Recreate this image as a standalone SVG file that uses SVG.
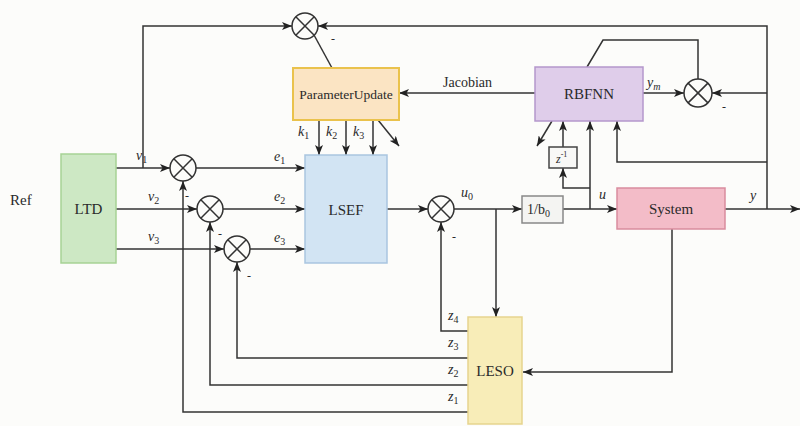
<svg xmlns="http://www.w3.org/2000/svg" width="800" height="426" viewBox="0 0 800 426">
<defs>
<marker id="ah" viewBox="0 0 10 8" refX="10" refY="4" markerWidth="10" markerHeight="8" markerUnits="userSpaceOnUse" orient="auto">
<path d="M0,0 L10,4 L0,8 L2.5,4 Z" fill="#222"/>
</marker>
<style>
.ln{fill:none;stroke:#333;stroke-width:1.5}
.ar{marker-end:url(#ah)}
.sum{fill:#fcfcfa;stroke:#333;stroke-width:1.5}
.t{font-family:"Liberation Serif","Times New Roman",serif;fill:#2a2a2a}
.box{font-size:15px;text-anchor:middle}
.lb{font-size:14px;font-style:italic}
.mn{font-size:12px}
</style>
</defs>
<rect width="800" height="426" fill="#fcfcfa"/>

<g id="connectors">
<path class="ln ar" d="M116,168 H170"/>
<path class="ln ar" d="M143,168 V26 H292"/>
<path class="ln ar" d="M116,209 H197"/>
<path class="ln ar" d="M116,249 H224"/>
<path class="ln ar" d="M196,168 H305"/>
<path class="ln ar" d="M223,209 H305"/>
<path class="ln ar" d="M250,249 H305"/>
<path class="ln ar" d="M387,209 H428"/>
<path class="ln ar" d="M454,209 H522"/>
<path class="ln ar" d="M496,209 V317"/>
<path class="ln ar" d="M563,209 H617"/>
<path class="ln ar" d="M725,209 H800"/>
<path class="ln ar" d="M767,209 V26 H318"/>
<path class="ln" d="M314,35 L332,68"/>
<path class="ln ar" d="M319,120 V155"/>
<path class="ln ar" d="M346,120 V155"/>
<path class="ln ar" d="M373,120 V155"/>
<path class="ln ar" d="M378,120 L399,146"/>
<path class="ln ar" d="M535,93 H399"/>
<path class="ln ar" d="M643,93 H684"/>
<path class="ln ar" d="M767,93 H712"/>
<path class="ln" d="M698,79 V40 H603 L587,67"/>
<path class="ln ar" d="M590,209 V121"/>
<path class="ln ar" d="M590,188 H563 V168"/>
<path class="ln ar" d="M563,147 V121"/>
<path class="ln ar" d="M552,121 L537,146"/>
<path class="ln ar" d="M767,162 H617 V121"/>
<path class="ln ar" d="M672,229 V372 H523"/>
<path class="ln ar" d="M468,331 H441 V222"/>
<path class="ln ar" d="M468,358 H237 V262"/>
<path class="ln ar" d="M468,385 H210 V222"/>
<path class="ln ar" d="M468,412 H183 V181"/>
</g>

<g id="sum_top"><circle class="sum" cx="305" cy="26" r="13"/><path class="ln" d="M295.8,16.8 L314.2,35.2 M314.2,16.8 L295.8,35.2"/></g>
<g id="sum1"><circle class="sum" cx="183" cy="168" r="13"/><path class="ln" d="M173.8,158.8 L192.2,177.2 M192.2,158.8 L173.8,177.2"/></g>
<g id="sum2"><circle class="sum" cx="210" cy="209" r="13"/><path class="ln" d="M200.8,199.8 L219.2,218.2 M219.2,199.8 L200.8,218.2"/></g>
<g id="sum3"><circle class="sum" cx="237" cy="249" r="13"/><path class="ln" d="M227.8,239.8 L246.2,258.2 M246.2,239.8 L227.8,258.2"/></g>
<g id="sum4"><circle class="sum" cx="441" cy="209" r="13"/><path class="ln" d="M431.8,199.8 L450.2,218.2 M450.2,199.8 L431.8,218.2"/></g>
<g id="sum5"><circle class="sum" cx="698" cy="93" r="14"/><path class="ln" d="M688.1,83.1 L707.9,102.9 M707.9,83.1 L688.1,102.9"/></g>

<g id="LTD"><rect x="61" y="154" width="55" height="109" fill="#cde8c4" stroke="#a6d295" stroke-width="1.5"/><text class="t box" x="88.5" y="214">LTD</text></g>
<g id="LSEF"><rect x="305" y="155" width="82" height="108" fill="#d2e4f3" stroke="#a9c5e0" stroke-width="1.5"/><text class="t box" x="346" y="215">LSEF</text></g>
<g id="ParameterUpdate"><rect x="293" y="68" width="106" height="52" fill="#fbe4c3" stroke="#eac24c" stroke-width="2"/><text class="t" x="346" y="99" font-size="13.5" text-anchor="middle">ParameterUpdate</text></g>
<g id="RBFNN"><rect x="535" y="67" width="108" height="54" fill="#dfcdea" stroke="#b497cc" stroke-width="1.5"/><text class="t box" x="589" y="99">RBFNN</text></g>
<g id="System"><rect x="617" y="188" width="108" height="41" fill="#f3bcc8" stroke="#d98c9e" stroke-width="1.5"/><text class="t box" x="671" y="214" font-size="16">System</text></g>
<g id="inv_b0"><rect x="522" y="196" width="41" height="27" fill="#f4f4f2" stroke="#888" stroke-width="1.5"/><text class="t" x="527" y="214" font-size="14">1/b<tspan font-size="10" dy="3">0</tspan></text></g>
<g id="z_inv"><rect x="549" y="147" width="28" height="21" fill="#f8f8f6" stroke="#444" stroke-width="1.5"/><text class="t" x="556" y="163" font-size="12" font-style="italic">z<tspan font-size="8" dy="-6" font-style="normal">-1</tspan></text></g>
<g id="LESO"><rect x="468" y="317" width="54" height="107" fill="#f8edb8" stroke="#e6d48e" stroke-width="1.5"/><text class="t box" x="495" y="376" font-size="16">LESO</text></g>

<g id="labels">
<text class="t" x="10" y="205" font-size="15">Ref</text>
<text class="t" x="443" y="87" font-size="14">Jacobian</text>
<text class="t lb" x="136" y="160">v<tspan font-size="10" dy="3" font-style="normal">1</tspan></text>
<text class="t lb" x="148" y="201">v<tspan font-size="10" dy="3" font-style="normal">2</tspan></text>
<text class="t lb" x="148" y="241">v<tspan font-size="10" dy="3" font-style="normal">3</tspan></text>
<text class="t lb" x="274" y="161">e<tspan font-size="10" dy="3" font-style="normal">1</tspan></text>
<text class="t lb" x="274" y="201">e<tspan font-size="10" dy="3" font-style="normal">2</tspan></text>
<text class="t lb" x="274" y="242">e<tspan font-size="10" dy="3" font-style="normal">3</tspan></text>
<text class="t lb" x="298" y="136">k<tspan font-size="10" dy="3" font-style="normal">1</tspan></text>
<text class="t lb" x="326" y="136">k<tspan font-size="10" dy="3" font-style="normal">2</tspan></text>
<text class="t lb" x="353" y="136">k<tspan font-size="10" dy="3" font-style="normal">3</tspan></text>
<text class="t lb" x="461" y="197">u<tspan font-size="10" dy="3" font-style="normal">0</tspan></text>
<text class="t lb" x="599" y="199">u</text>
<text class="t lb" x="750" y="200">y</text>
<text class="t lb" x="647" y="87">y<tspan font-size="10" dy="3">m</tspan></text>
<text class="t lb" x="448" y="320">z<tspan font-size="10" dy="3" font-style="normal">4</tspan></text>
<text class="t lb" x="448" y="347">z<tspan font-size="10" dy="3" font-style="normal">3</tspan></text>
<text class="t lb" x="448" y="374">z<tspan font-size="10" dy="3" font-style="normal">2</tspan></text>
<text class="t lb" x="448" y="401">z<tspan font-size="10" dy="3" font-style="normal">1</tspan></text>
<text class="t mn" x="331" y="43">-</text>
<text class="t mn" x="722" y="111">-</text>
<text class="t mn" x="452" y="241">-</text>
<text class="t mn" x="247" y="280">-</text>
<text class="t mn" x="218" y="238">-</text>
<text class="t mn" x="185" y="200">-</text>
</g>
</svg>
